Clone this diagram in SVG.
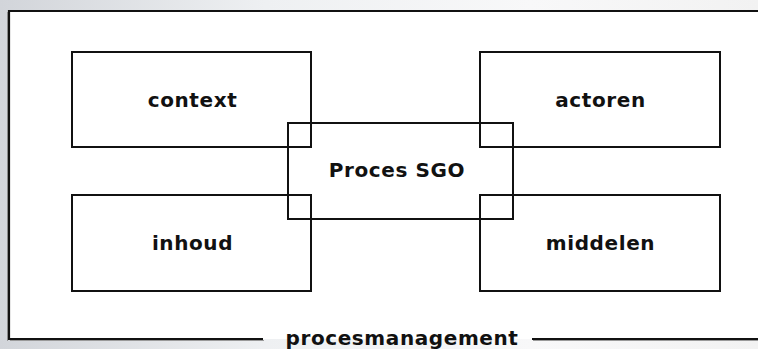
<svg xmlns="http://www.w3.org/2000/svg" width="758" height="349" viewBox="0 0 758 349">
  <defs>
    <linearGradient id="bg" x1="0" y1="0" x2="1" y2="0">
      <stop offset="0" stop-color="#d2d5da"/>
      <stop offset="0.35" stop-color="#eef0f2"/>
      <stop offset="0.7" stop-color="#f8f8f9"/>
      <stop offset="1" stop-color="#f2f2f2"/>
    </linearGradient>
    <style>
      .frame { fill: none; stroke: #111; stroke-width: 2.2; }
      .shade { fill: none; stroke: #9a9a9a; stroke-width: 1; }
      .box { fill: #fff; stroke: #111; stroke-width: 2; }
      .hollow { fill: none; stroke: #111; stroke-width: 2; }
      .lbl { font-family: "DejaVu Sans", Verdana, sans-serif; font-weight: bold; font-size: 20px; letter-spacing: 0.6px; fill: #111; text-anchor: middle; }
    </style>
  </defs>

  <!-- panel background and white work area -->
  <rect x="0" y="0" width="758" height="349" fill="url(#bg)"/>
  <rect x="9" y="11" width="749" height="328" fill="#fff"/>

  <!-- outer frame, open on the right, with a gap for the caption -->
  <g id="frame">
    <path class="shade" d="M7.5 12 V341 M10 340.5 H264 M533 340.5 H758"/>
    <path class="frame" d="M758 11 H9 V339 H263 M532 339 H758"/>
    <text class="lbl" x="402" y="345">procesmanagement</text>
  </g>

  <g id="context">
    <rect class="box" x="72" y="52" width="239" height="95"/>
    <text class="lbl" x="192.5" y="107">context</text>
  </g>
  <g id="actoren">
    <rect class="box" x="480" y="52" width="240" height="95"/>
    <text class="lbl" x="600.5" y="107">actoren</text>
  </g>
  <g id="inhoud">
    <rect class="box" x="72" y="195" width="239" height="96"/>
    <text class="lbl" x="192.5" y="250">inhoud</text>
  </g>
  <g id="middelen">
    <rect class="box" x="480" y="195" width="240" height="96"/>
    <text class="lbl" x="600.5" y="250">middelen</text>
  </g>

  <g id="proces-sgo">
    <rect class="hollow" x="288" y="123" width="225" height="96"/>
    <text class="lbl" x="397" y="177">Proces SGO</text>
  </g>

  <g id="connectors"></g>
</svg>
